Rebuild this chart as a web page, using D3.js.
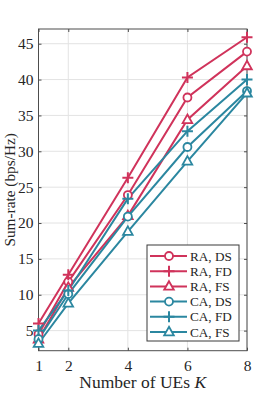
<!DOCTYPE html>
<html>
<head>
<meta charset="utf-8">
<script src="https://cdn.jsdelivr.net/npm/d3@7"></script>
<style>
  body { margin: 0; background: #fff; }
  svg text { font-family: "Liberation Serif", "DejaVu Serif", serif; fill: #262626; }
</style>
</head>
<body>
<div id="container"></div>
<script>
const users = [1, 2, 4, 6, 8];
const xTicks = [1, 2, 4, 6, 8];
const yTicks = [5, 10, 15, 20, 25, 30, 35, 40, 45];

const raDS = [4.5, 11.8, 23.9, 37.5, 43.9];
const raFD = [6.0, 12.8, 26.3, 40.3, 45.9];
const raFS = [3.8, 11.0, 21.0, 34.4, 41.9];
const caDS = [3.8, 10.1, 20.9, 30.6, 38.4];
const caFD = [5.0, 10.6, 23.4, 32.8, 40.0];
const caFS = [3.2, 8.8, 18.8, 28.6, 38.1];

const seriesNames = ['RA, DS', 'RA, FD', 'RA, FS', 'CA, DS', 'CA, FD', 'CA, FS'];
const seriesValues = [raDS, raFD, raFS, caDS, caFD, caFS];
const seriesMarkers = ['circle', 'plus', 'triangle', 'circle', 'plus', 'triangle'];
const red = '#d0335b', teal = '#2b87a0';
const seriesColors = [red, red, red, teal, teal, teal];

const width = 274, height = 396;
const margin = {left: 38.5, right: 27, top: 29, bottom: 45.3};

const svg = d3.select('#container').append('svg')
    .attr('width', width).attr('height', height);

const xScale = d3.scaleLinear().domain([1, 8]).range([margin.left, width - margin.right]);
const yScale = d3.scaleLinear().domain([2.2, 47.05]).range([height - margin.bottom, margin.top]);

const x0 = xScale.range()[0], x1 = xScale.range()[1];
const y0 = yScale.range()[0], y1 = yScale.range()[1];

// grid
svg.append('g').selectAll('line').data(xTicks).enter().append('line')
    .attr('x1', d => xScale(d)).attr('x2', d => xScale(d))
    .attr('y1', y0).attr('y2', y1)
    .style('stroke', '#e3e3e3').style('stroke-width', 1);
svg.append('g').selectAll('line').data(yTicks).enter().append('line')
    .attr('x1', x0).attr('x2', x1)
    .attr('y1', d => yScale(d)).attr('y2', d => yScale(d))
    .style('stroke', '#e3e3e3').style('stroke-width', 1);

// axes (ticks inward, box)
const axisStyle = g => {
    g.select('.domain').remove();
    g.selectAll('.tick line').style('stroke', '#4d4d4d');
    g.selectAll('.tick text').style('font-size', '15.5px')
        .style('font-family', '"Liberation Serif", serif').style('fill', '#262626');
};
svg.append('g').attr('transform', 'translate(0,' + y0 + ')')
    .call(d3.axisBottom(xScale).tickValues(xTicks).tickFormat(d3.format('d')).tickSize(-3).tickPadding(9))
    .call(axisStyle);
svg.append('g').attr('transform', 'translate(0,' + y1 + ')')
    .call(d3.axisTop(xScale).tickValues(xTicks).tickSize(-3).tickFormat(''))
    .call(axisStyle);
svg.append('g').attr('transform', 'translate(' + x0 + ',0)')
    .call(d3.axisLeft(yScale).tickValues(yTicks).tickFormat(d3.format('d')).tickSize(-3).tickPadding(5))
    .call(axisStyle);
svg.append('g').attr('transform', 'translate(' + x1 + ',0)')
    .call(d3.axisRight(yScale).tickValues(yTicks).tickSize(-3).tickFormat(''))
    .call(axisStyle);

svg.append('rect')
    .attr('x', x0).attr('y', y1).attr('width', x1 - x0).attr('height', y0 - y1)
    .style('fill', 'none').style('stroke', '#4d4d4d').style('stroke-width', 1);

// markers
const drawMarker = (g, type, color) => {
    if (type === 'circle') {
        g.append('circle').attr('r', 4)
            .style('fill', '#fff').style('stroke', color).style('stroke-width', 1.8);
    } else if (type === 'plus') {
        g.append('path').attr('d', 'M-5.5,0H5.5M0,-5.5V5.5')
            .style('stroke', color).style('stroke-width', 2);
    } else {
        g.append('path').attr('d', 'M0,-5.2L4.8,3.3L-4.8,3.3Z')
            .style('fill', '#fff').style('stroke', color).style('stroke-width', 1.8);
    }
};

const line = d3.line().x((d, i) => xScale(users[i])).y(d => yScale(d));

seriesValues.forEach((vals, s) => {
    svg.append('path').datum(vals)
        .attr('d', line)
        .style('fill', 'none').style('stroke', seriesColors[s]).style('stroke-width', 2);
});
seriesValues.forEach((vals, s) => {
    vals.forEach((v, i) => {
        const g = svg.append('g')
            .attr('transform', 'translate(' + xScale(users[i]) + ',' + yScale(v) + ')');
        drawMarker(g, seriesMarkers[s], seriesColors[s]);
    });
});

// legend
const legend = svg.append('g').attr('transform', 'translate(147,245)');
legend.append('rect')
    .attr('width', 92).attr('height', 96)
    .style('fill', '#fff').style('stroke', '#3a3a3a').style('stroke-width', 1);
seriesNames.forEach((name, s) => {
    const yy = 11 + s * 15.2;
    legend.append('line')
        .attr('x1', 3).attr('x2', 40).attr('y1', yy).attr('y2', yy)
        .style('stroke', seriesColors[s]).style('stroke-width', 2);
    const m = legend.append('g').attr('transform', 'translate(22,' + yy + ')');
    drawMarker(m, seriesMarkers[s], seriesColors[s]);
    legend.append('text')
        .attr('x', 43).attr('y', yy + 4.5)
        .style('font-size', '13.2px')
        .text(name);
});

// axis labels
const xl = svg.append('text')
    .attr('x', (x0 + x1) / 2).attr('y', 388)
    .attr('text-anchor', 'middle')
    .style('font-size', '17.5px');
xl.append('tspan').text('Number of UEs ');
xl.append('tspan').style('font-style', 'italic').text('K');

svg.append('text')
    .attr('transform', 'translate(15,' + ((y0 + y1) / 2) + ') rotate(-90)')
    .attr('text-anchor', 'middle')
    .style('font-size', '15.3px')
    .text('Sum-rate (bps/Hz)');
</script>
</body>
</html>
